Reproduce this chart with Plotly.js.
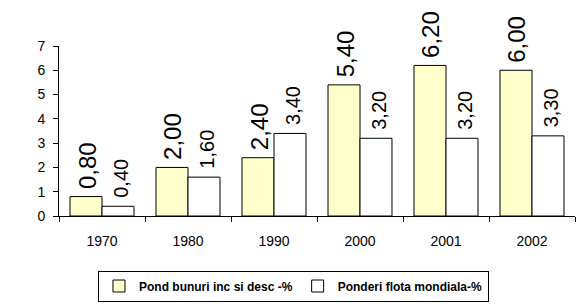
<!DOCTYPE html>
<html><head><meta charset="utf-8">
<script src="https://cdn.plot.ly/plotly-3.0.1.min.js"></script>
<style>html,body{margin:0;padding:0;background:#fff;}#chart{width:588px;height:307px;}</style>
</head><body><div id="chart"></div>
<script>
var years = ['1970','1980','1990','2000','2001','2002'];
var pondBunuri = [0.80, 2.00, 2.40, 5.40, 6.20, 6.00];
var ponderiFlota = [0.40, 1.60, 3.40, 3.20, 3.20, 3.30];
var seriesNames = ['Pond bunuri inc si desc -%', 'Ponderi flota mondiala-%'];
var fmt = function(v){ return v.toFixed(2).replace('.', ','); };

var FONT = 'Arial, "Liberation Sans", sans-serif';
var traces = [
  {type:'bar', name:seriesNames[0], x:years, y:pondBunuri,
   marker:{color:'#FFFFCC', line:{color:'#000', width:1}}, hoverinfo:'none'},
  {type:'bar', name:seriesNames[1], x:years, y:ponderiFlota,
   marker:{color:'#FFFFFF', line:{color:'#000', width:1}}, hoverinfo:'none'}
];

var annotations = [];
years.forEach(function(yr, i){
  annotations.push({x:i, y:pondBunuri[i], xref:'x', yref:'y', text:fmt(pondBunuri[i]),
    showarrow:false, textangle:-90, yanchor:'bottom', xanchor:'center', xshift:-15, yshift:5,
    font:{family:FONT, size:24, color:'#000'}});
  annotations.push({x:i, y:ponderiFlota[i], xref:'x', yref:'y', text:fmt(ponderiFlota[i]),
    showarrow:false, textangle:-90, yanchor:'bottom', xanchor:'center', xshift:19, yshift:6,
    font:{family:FONT, size:20, color:'#000'}});
});

var layout = {
  width:588, height:307,
  margin:{l:59, r:13, t:46, b:91, pad:0, autoexpand:false},
  paper_bgcolor:'#fff', plot_bgcolor:'#fff',
  font:{family:FONT, size:13, color:'#000'},
  barmode:'group', bargap:0.256, bargroupgap:0,
  showlegend:true,
  legend:{orientation:'h', xref:'container', yref:'container',
    x:0.4991, xanchor:'center', y:1-286/307, yanchor:'middle',
    bordercolor:'#000', borderwidth:1, bgcolor:'#fff',
    font:{family:FONT, size:12, weight:'bold', color:'#000'},
    itemwidth:30, tracegroupgap:0},
  xaxis:{type:'category', range:[-0.5, years.length-0.5], autorange:false, automargin:false,
    showline:true, linecolor:'#000', linewidth:1,
    ticks:'outside', tickson:'boundaries', ticklen:5, tickcolor:'#000',
    showgrid:false, zeroline:false, ticklabelstandoff:12, tickangle:0,
    tickfont:{family:FONT, size:14, color:'#000'}},
  yaxis:{range:[0,7], autorange:false, automargin:false, dtick:1, tick0:0,
    showline:true, linecolor:'#000', linewidth:1,
    ticks:'outside', ticklen:5, tickcolor:'#000', showgrid:false, zeroline:false,
    ticklabelstandoff:5,
    tickfont:{family:FONT, size:14, color:'#000'}},
  annotations:annotations
};
Plotly.newPlot('chart', traces, layout, {displayModeBar:false, staticPlot:true});
</script></body></html>
